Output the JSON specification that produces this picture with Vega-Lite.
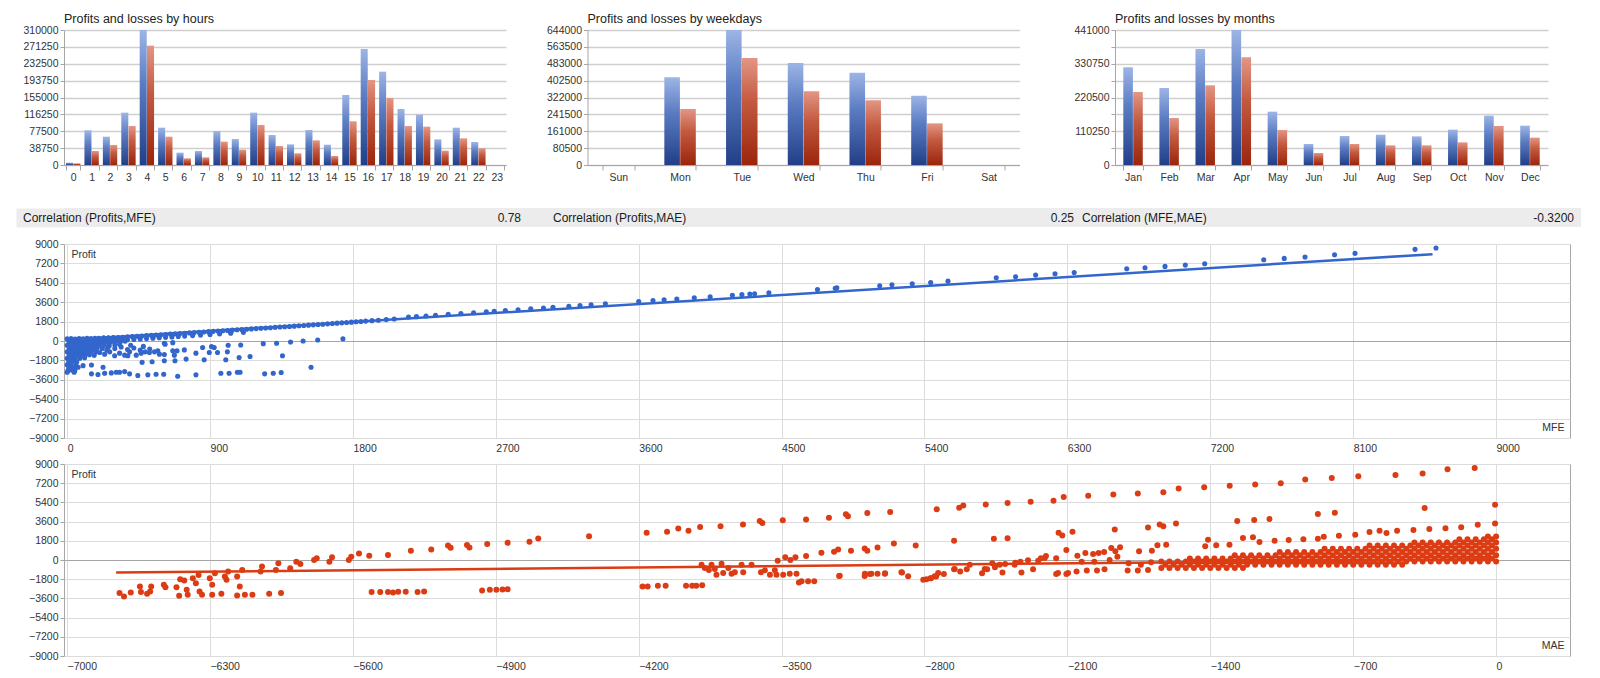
{
"$schema":"https://vega.github.io/schema/vega-lite/v6.json",
"padding":{"left":15,"top":12,"right":0,"bottom":0},
"background":"white",
"config":{"font":"Liberation Sans","view":{"stroke":null},"axis":{"labelFont":"Liberation Sans","titleFont":"Liberation Sans","labelColor":"#333333","titleColor":"#333333"},"title":{"font":"Liberation Sans"}},
"datasets":{
"hours":[{"hour":0,"Profit":5400,"Loss":3800},{"hour":1,"Profit":79600,"Loss":32100},{"hour":2,"Profit":65000,"Loss":45900},{"hour":3,"Profit":120200,"Loss":89500},{"hour":4,"Profit":310000,"Loss":274000},{"hour":5,"Profit":85700,"Loss":65000},{"hour":6,"Profit":28300,"Loss":15300},{"hour":7,"Profit":32100,"Loss":17600},{"hour":8,"Profit":78000,"Loss":53600},{"hour":9,"Profit":59700,"Loss":35200},{"hour":10,"Profit":120200,"Loss":91800},{"hour":11,"Profit":68900,"Loss":43600},{"hour":12,"Profit":47400,"Loss":26800},{"hour":13,"Profit":80400,"Loss":56600},{"hour":14,"Profit":46700,"Loss":20700},{"hour":15,"Profit":160700,"Loss":100300},{"hour":16,"Profit":266400,"Loss":195200},{"hour":17,"Profit":214300,"Loss":153800},{"hour":18,"Profit":128600,"Loss":89500},{"hour":19,"Profit":115600,"Loss":88000},{"hour":20,"Profit":58900,"Loss":32900},{"hour":21,"Profit":85700,"Loss":61200},{"hour":22,"Profit":52800,"Loss":38300},{"hour":23,"Profit":0,"Loss":0}],
"weekdays":[{"day":"Sun","Profit":0,"Loss":0},{"day":"Mon","Profit":418200,"Loss":267100},{"day":"Tue","Profit":644000,"Loss":510400},{"day":"Wed","Profit":486500,"Loss":351400},{"day":"Thu","Profit":440400,"Loss":308500},{"day":"Fri","Profit":330700,"Loss":198750},{"day":"Sat","Profit":0,"Loss":0}],
"months":[{"month":"Jan","Profit":319000,"Loss":238500},{"month":"Feb","Profit":251500,"Loss":153500},{"month":"Mar","Profit":379000,"Loss":260300},{"month":"Apr","Profit":441000,"Loss":351700},{"month":"May","Profit":174200,"Loss":114300},{"month":"Jun","Profit":68600,"Loss":39200},{"month":"Jul","Profit":94700,"Loss":68600},{"month":"Aug","Profit":99100,"Loss":64200},{"month":"Sep","Profit":93600,"Loss":64200},{"month":"Oct","Profit":115400,"Loss":74000},{"month":"Nov","Profit":161200,"Loss":127400},{"month":"Dec","Profit":128500,"Loss":89300}],
"corr":[{"pair":"Profits,MFE","label":"Correlation (Profits,MFE)","value":"0.78"},{"pair":"Profits,MAE","label":"Correlation (Profits,MAE)","value":"0.25"},{"pair":"MFE,MAE","label":"Correlation (MFE,MAE)","value":"-0.3200"}],
"mfeLine":[{"MFE":0,"Profit":100},{"MFE":8600,"Profit":8060}],
"maeLine":[{"MAE":-6760,"Profit":-1180},{"MAE":-20,"Profit":70}],
"mfePts":[
{"MFE":0,"Profit":200},{"MFE":25,"Profit":220},{"MFE":50,"Profit":190},{"MFE":75,"Profit":230},{"MFE":100,"Profit":210},{"MFE":125,"Profit":240},{"MFE":150,"Profit":220},{"MFE":175,"Profit":250},{"MFE":200,"Profit":260},{"MFE":230,"Profit":290},{"MFE":260,"Profit":300},{"MFE":290,"Profit":330},
{"MFE":12,"Profit":-100},{"MFE":37,"Profit":-80},{"MFE":62,"Profit":-120},{"MFE":87,"Profit":-90},{"MFE":112,"Profit":-110},{"MFE":137,"Profit":-70},{"MFE":162,"Profit":-100},{"MFE":187,"Profit":-60},{"MFE":215,"Profit":-90},{"MFE":245,"Profit":-40},{"MFE":275,"Profit":-80},{"MFE":305,"Profit":-20},{"MFE":335,"Profit":-60},{"MFE":365,"Profit":-10},
{"MFE":0,"Profit":-400},{"MFE":25,"Profit":-380},{"MFE":50,"Profit":-420},{"MFE":75,"Profit":-390},{"MFE":100,"Profit":-410},{"MFE":125,"Profit":-380},{"MFE":150,"Profit":-420},{"MFE":175,"Profit":-390},{"MFE":200,"Profit":-400},{"MFE":230,"Profit":-370},{"MFE":265,"Profit":-430},{"MFE":300,"Profit":-380},
{"MFE":12,"Profit":-700},{"MFE":37,"Profit":-680},{"MFE":62,"Profit":-720},{"MFE":87,"Profit":-690},{"MFE":112,"Profit":-710},{"MFE":137,"Profit":-680},{"MFE":162,"Profit":-720},{"MFE":187,"Profit":-690},{"MFE":220,"Profit":-700},{"MFE":255,"Profit":-660},
{"MFE":0,"Profit":-1000},{"MFE":25,"Profit":-980},{"MFE":50,"Profit":-1020},{"MFE":75,"Profit":-990},{"MFE":100,"Profit":-1010},{"MFE":125,"Profit":-980},{"MFE":150,"Profit":-1000},{"MFE":180,"Profit":-1030},
{"MFE":12,"Profit":-1300},{"MFE":37,"Profit":-1280},{"MFE":62,"Profit":-1320},{"MFE":87,"Profit":-1290},{"MFE":112,"Profit":-1310},{"MFE":140,"Profit":-1280},{"MFE":170,"Profit":-1330},
{"MFE":0,"Profit":-1600},{"MFE":25,"Profit":-1580},{"MFE":50,"Profit":-1620},{"MFE":80,"Profit":-1590},{"MFE":110,"Profit":-1560},
{"MFE":10,"Profit":-1900},{"MFE":35,"Profit":-1880},{"MFE":60,"Profit":-1920},{"MFE":0,"Profit":-2200},{"MFE":25,"Profit":-2180},{"MFE":55,"Profit":-2230},{"MFE":10,"Profit":-2500},{"MFE":40,"Profit":-2480},{"MFE":5,"Profit":-2750},{"MFE":30,"Profit":-2700},{"MFE":0,"Profit":-2900},
{"MFE":200,"Profit":210},{"MFE":230,"Profit":239},{"MFE":260,"Profit":267},{"MFE":290,"Profit":296},{"MFE":320,"Profit":324},{"MFE":350,"Profit":353},{"MFE":380,"Profit":381},{"MFE":410,"Profit":410},{"MFE":440,"Profit":438},{"MFE":470,"Profit":467},{"MFE":500,"Profit":495},{"MFE":530,"Profit":524},{"MFE":560,"Profit":552},{"MFE":590,"Profit":581},{"MFE":620,"Profit":609},{"MFE":650,"Profit":638},{"MFE":680,"Profit":666},{"MFE":710,"Profit":695},{"MFE":740,"Profit":723},{"MFE":770,"Profit":752},{"MFE":800,"Profit":780},{"MFE":830,"Profit":809},{"MFE":860,"Profit":837},{"MFE":890,"Profit":866},{"MFE":920,"Profit":894},{"MFE":950,"Profit":923},{"MFE":980,"Profit":951},{"MFE":1010,"Profit":980},{"MFE":1040,"Profit":1008},{"MFE":1070,"Profit":1037},{"MFE":1100,"Profit":1065},{"MFE":1130,"Profit":1094},{"MFE":1160,"Profit":1122},{"MFE":1190,"Profit":1151},{"MFE":1220,"Profit":1179},{"MFE":1250,"Profit":1208},{"MFE":1280,"Profit":1236},{"MFE":1310,"Profit":1265},{"MFE":1340,"Profit":1293},{"MFE":1370,"Profit":1322},{"MFE":1400,"Profit":1350},{"MFE":1430,"Profit":1379},{"MFE":1460,"Profit":1410},{"MFE":1490,"Profit":1440},{"MFE":1520,"Profit":1470},{"MFE":1550,"Profit":1500},{"MFE":1580,"Profit":1530},{"MFE":1610,"Profit":1560},{"MFE":1640,"Profit":1592},{"MFE":1670,"Profit":1622},{"MFE":1700,"Profit":1654},{"MFE":1730,"Profit":1685},{"MFE":1760,"Profit":1716},{"MFE":1790,"Profit":1748},{"MFE":1820,"Profit":1780},{"MFE":1850,"Profit":1812},{"MFE":1880,"Profit":1845},{"MFE":1920,"Profit":1888},{"MFE":1960,"Profit":1930},{"MFE":2010,"Profit":1985},{"MFE":2060,"Profit":2040},
{"MFE":220,"Profit":-40},{"MFE":260,"Profit":-3},{"MFE":300,"Profit":35},{"MFE":340,"Profit":73},{"MFE":380,"Profit":111},{"MFE":420,"Profit":149},{"MFE":460,"Profit":187},{"MFE":500,"Profit":225},{"MFE":540,"Profit":263},{"MFE":580,"Profit":301},{"MFE":620,"Profit":339},{"MFE":660,"Profit":377},{"MFE":700,"Profit":415},{"MFE":740,"Profit":453},{"MFE":790,"Profit":500},{"MFE":840,"Profit":548},{"MFE":900,"Profit":605},{"MFE":960,"Profit":662},{"MFE":1030,"Profit":728},{"MFE":1110,"Profit":804},
{"MFE":2150,"Profit":2230},{"MFE":2200,"Profit":2260},{"MFE":2260,"Profit":2320},{"MFE":2320,"Profit":2380},{"MFE":2400,"Profit":2470},{"MFE":2480,"Profit":2540},{"MFE":2560,"Profit":2620},{"MFE":2640,"Profit":2700},{"MFE":2690,"Profit":2750},{"MFE":2760,"Profit":2830},{"MFE":2840,"Profit":2900},{"MFE":2920,"Profit":2990},{"MFE":3000,"Profit":3060},{"MFE":3060,"Profit":3130},{"MFE":3160,"Profit":3220},{"MFE":3230,"Profit":3290},{"MFE":3300,"Profit":3370},{"MFE":3390,"Profit":3450},{"MFE":3600,"Profit":3660},{"MFE":3690,"Profit":3750},{"MFE":3760,"Profit":3820},{"MFE":3840,"Profit":3900},{"MFE":3950,"Profit":4010},{"MFE":4050,"Profit":4110},{"MFE":4190,"Profit":4250},{"MFE":4250,"Profit":4300},{"MFE":4300,"Profit":4360},{"MFE":4330,"Profit":4390},{"MFE":4420,"Profit":4480},
{"MFE":4726,"Profit":4779},{"MFE":4838,"Profit":4900},{"MFE":4848,"Profit":4934},{"MFE":5118,"Profit":5120},{"MFE":5195,"Profit":5213},{"MFE":5323,"Profit":5306},{"MFE":5439,"Profit":5430},{"MFE":5548,"Profit":5554},{"MFE":5852,"Profit":5865},{"MFE":5974,"Profit":5958},{"MFE":6100,"Profit":6113},{"MFE":6222,"Profit":6237},{"MFE":6343,"Profit":6361},{"MFE":6674,"Profit":6702},{"MFE":6789,"Profit":6796},{"MFE":6915,"Profit":6920},{"MFE":7043,"Profit":7044},{"MFE":7165,"Profit":7168},{"MFE":7537,"Profit":7540},{"MFE":7666,"Profit":7664},{"MFE":7797,"Profit":7789},{"MFE":7983,"Profit":8006},{"MFE":8112,"Profit":8130},{"MFE":8490,"Profit":8502},{"MFE":8622,"Profit":8626},
{"MFE":612,"Profit":-214},{"MFE":665,"Profit":-153},{"MFE":738,"Profit":-824},{"MFE":749,"Profit":-1678},{"MFE":811,"Profit":-1129},{"MFE":853,"Profit":-610},{"MFE":863,"Profit":-1739},{"MFE":895,"Profit":-1068},{"MFE":909,"Profit":-519},{"MFE":926,"Profit":-610},{"MFE":947,"Profit":-1068},{"MFE":999,"Profit":-1739},{"MFE":1009,"Profit":-1007},{"MFE":1014,"Profit":-397},{"MFE":1083,"Profit":-1525},{"MFE":1093,"Profit":-366},{"MFE":1152,"Profit":-1434},{"MFE":1235,"Profit":-244},{"MFE":1319,"Profit":-214},{"MFE":1356,"Profit":-1373},{"MFE":1407,"Profit":-92},{"MFE":1486,"Profit":0},{"MFE":1536,"Profit":-2440},{"MFE":1578,"Profit":92},{"MFE":1737,"Profit":214},
{"MFE":153,"Profit":-3050},{"MFE":194,"Profit":-3111},{"MFE":236,"Profit":-2989},{"MFE":278,"Profit":-2959},{"MFE":309,"Profit":-2898},{"MFE":330,"Profit":-2898},{"MFE":362,"Profit":-2837},{"MFE":393,"Profit":-3050},{"MFE":445,"Profit":-3203},{"MFE":508,"Profit":-3142},{"MFE":560,"Profit":-3081},{"MFE":608,"Profit":-3081},{"MFE":696,"Profit":-3264},{"MFE":811,"Profit":-3142},{"MFE":968,"Profit":-2989},{"MFE":1020,"Profit":-2989},{"MFE":1072,"Profit":-2898},{"MFE":1089,"Profit":-2898},{"MFE":1244,"Profit":-3050},{"MFE":1298,"Profit":-2989},{"MFE":1348,"Profit":-2928},
{"MFE":48,"Profit":-2745},{"MFE":69,"Profit":-2440},{"MFE":100,"Profit":-2288},{"MFE":153,"Profit":-2227},{"MFE":226,"Profit":-2440},{"MFE":44,"Profit":-2898},{"MFE":472,"Profit":-1983},{"MFE":535,"Profit":-1922},{"MFE":612,"Profit":-1830},{"MFE":679,"Profit":-1830},
{"MFE":205,"Profit":-1068},{"MFE":236,"Profit":-1220},{"MFE":268,"Profit":-1007},{"MFE":299,"Profit":-1373},{"MFE":330,"Profit":-1129},{"MFE":362,"Profit":-1312},{"MFE":393,"Profit":-1007},{"MFE":382,"Profit":-1373},{"MFE":435,"Profit":-1312},{"MFE":466,"Profit":-1129},{"MFE":491,"Profit":-1007},{"MFE":518,"Profit":-1068},{"MFE":550,"Profit":-1007},{"MFE":571,"Profit":-915},{"MFE":581,"Profit":-1220},{"MFE":612,"Profit":-1251},{"MFE":617,"Profit":-305},{"MFE":675,"Profit":-1312},{"MFE":692,"Profit":-915},{"MFE":665,"Profit":-915},
{"MFE":220,"Profit":-600},{"MFE":260,"Profit":-450},{"MFE":300,"Profit":-700},{"MFE":340,"Profit":-550},{"MFE":380,"Profit":-800},{"MFE":420,"Profit":-650},{"MFE":460,"Profit":-850},{"MFE":250,"Profit":-850},{"MFE":330,"Profit":-300},{"MFE":400,"Profit":-400},{"MFE":480,"Profit":-500},{"MFE":520,"Profit":-750}
],
"maePts":[
{"MAE":-1640,"Profit":-750},{"MAE":-1600,"Profit":-750},{"MAE":-1560,"Profit":-750},{"MAE":-1520,"Profit":-750},{"MAE":-1480,"Profit":-750},{"MAE":-1440,"Profit":-750},{"MAE":-1400,"Profit":-750},{"MAE":-1360,"Profit":-750},{"MAE":-1320,"Profit":-750},{"MAE":-1280,"Profit":-750},{"MAE":-1240,"Profit":-750},
{"MAE":-1620,"Profit":-450},{"MAE":-1580,"Profit":-450},{"MAE":-1540,"Profit":-450},{"MAE":-1500,"Profit":-450},{"MAE":-1460,"Profit":-450},{"MAE":-1420,"Profit":-450},{"MAE":-1380,"Profit":-450},{"MAE":-1340,"Profit":-450},{"MAE":-1300,"Profit":-450},{"MAE":-1260,"Profit":-450},{"MAE":-1220,"Profit":-450},{"MAE":-1180,"Profit":-450},{"MAE":-1140,"Profit":-450},{"MAE":-1100,"Profit":-450},{"MAE":-1060,"Profit":-450},{"MAE":-1020,"Profit":-450},{"MAE":-980,"Profit":-450},{"MAE":-940,"Profit":-450},{"MAE":-900,"Profit":-450},{"MAE":-860,"Profit":-450},{"MAE":-820,"Profit":-450},{"MAE":-780,"Profit":-450},{"MAE":-740,"Profit":-450},{"MAE":-700,"Profit":-450},{"MAE":-660,"Profit":-450},{"MAE":-620,"Profit":-450},{"MAE":-580,"Profit":-450},{"MAE":-540,"Profit":-450},{"MAE":-500,"Profit":-450},{"MAE":-460,"Profit":-450},
{"MAE":-1640,"Profit":-150},{"MAE":-1600,"Profit":-150},{"MAE":-1560,"Profit":-150},{"MAE":-1520,"Profit":-150},{"MAE":-1480,"Profit":-150},{"MAE":-1440,"Profit":-150},{"MAE":-1400,"Profit":-150},{"MAE":-1360,"Profit":-150},{"MAE":-1320,"Profit":-150},{"MAE":-1280,"Profit":-150},{"MAE":-1240,"Profit":-150},{"MAE":-1200,"Profit":-150},{"MAE":-1160,"Profit":-150},{"MAE":-1120,"Profit":-150},{"MAE":-1080,"Profit":-150},{"MAE":-1040,"Profit":-150},{"MAE":-1000,"Profit":-150},{"MAE":-960,"Profit":-150},{"MAE":-920,"Profit":-150},{"MAE":-880,"Profit":-150},{"MAE":-840,"Profit":-150},{"MAE":-800,"Profit":-150},{"MAE":-760,"Profit":-150},{"MAE":-720,"Profit":-150},{"MAE":-680,"Profit":-150},{"MAE":-640,"Profit":-150},{"MAE":-600,"Profit":-150},{"MAE":-560,"Profit":-150},{"MAE":-520,"Profit":-150},{"MAE":-480,"Profit":-150},{"MAE":-440,"Profit":-150},{"MAE":-400,"Profit":-150},{"MAE":-360,"Profit":-150},{"MAE":-320,"Profit":-150},{"MAE":-280,"Profit":-150},{"MAE":-240,"Profit":-150},{"MAE":-200,"Profit":-150},{"MAE":-160,"Profit":-150},{"MAE":-120,"Profit":-150},{"MAE":-80,"Profit":-150},{"MAE":-40,"Profit":-150},{"MAE":0,"Profit":-150},
{"MAE":-1500,"Profit":150},{"MAE":-1460,"Profit":150},{"MAE":-1420,"Profit":150},{"MAE":-1380,"Profit":150},{"MAE":-1340,"Profit":150},{"MAE":-1300,"Profit":150},{"MAE":-1260,"Profit":150},{"MAE":-1220,"Profit":150},{"MAE":-1180,"Profit":150},{"MAE":-1140,"Profit":150},{"MAE":-1100,"Profit":150},{"MAE":-1060,"Profit":150},{"MAE":-1020,"Profit":150},{"MAE":-980,"Profit":150},{"MAE":-940,"Profit":150},{"MAE":-900,"Profit":150},{"MAE":-860,"Profit":150},{"MAE":-820,"Profit":150},{"MAE":-780,"Profit":150},{"MAE":-740,"Profit":150},{"MAE":-700,"Profit":150},{"MAE":-660,"Profit":150},{"MAE":-620,"Profit":150},{"MAE":-580,"Profit":150},{"MAE":-540,"Profit":150},{"MAE":-500,"Profit":150},{"MAE":-460,"Profit":150},{"MAE":-420,"Profit":150},{"MAE":-380,"Profit":150},{"MAE":-340,"Profit":150},{"MAE":-300,"Profit":150},{"MAE":-260,"Profit":150},{"MAE":-220,"Profit":150},{"MAE":-180,"Profit":150},{"MAE":-140,"Profit":150},{"MAE":-100,"Profit":150},{"MAE":-60,"Profit":150},{"MAE":-20,"Profit":150},
{"MAE":-1280,"Profit":450},{"MAE":-1240,"Profit":450},{"MAE":-1200,"Profit":450},{"MAE":-1160,"Profit":450},{"MAE":-1120,"Profit":450},{"MAE":-1080,"Profit":450},{"MAE":-1040,"Profit":450},{"MAE":-1000,"Profit":450},{"MAE":-960,"Profit":450},{"MAE":-920,"Profit":450},{"MAE":-880,"Profit":450},{"MAE":-840,"Profit":450},{"MAE":-800,"Profit":450},{"MAE":-760,"Profit":450},{"MAE":-720,"Profit":450},{"MAE":-680,"Profit":450},{"MAE":-640,"Profit":450},{"MAE":-600,"Profit":450},{"MAE":-560,"Profit":450},{"MAE":-520,"Profit":450},{"MAE":-480,"Profit":450},{"MAE":-440,"Profit":450},{"MAE":-400,"Profit":450},{"MAE":-360,"Profit":450},{"MAE":-320,"Profit":450},{"MAE":-280,"Profit":450},{"MAE":-240,"Profit":450},{"MAE":-200,"Profit":450},{"MAE":-160,"Profit":450},{"MAE":-120,"Profit":450},{"MAE":-80,"Profit":450},{"MAE":-40,"Profit":450},{"MAE":0,"Profit":450},
{"MAE":-1060,"Profit":750},{"MAE":-1020,"Profit":750},{"MAE":-980,"Profit":750},{"MAE":-940,"Profit":750},{"MAE":-900,"Profit":750},{"MAE":-860,"Profit":750},{"MAE":-820,"Profit":750},{"MAE":-780,"Profit":750},{"MAE":-740,"Profit":750},{"MAE":-700,"Profit":750},{"MAE":-660,"Profit":750},{"MAE":-620,"Profit":750},{"MAE":-580,"Profit":750},{"MAE":-540,"Profit":750},{"MAE":-500,"Profit":750},{"MAE":-460,"Profit":750},{"MAE":-420,"Profit":750},{"MAE":-380,"Profit":750},{"MAE":-340,"Profit":750},{"MAE":-300,"Profit":750},{"MAE":-260,"Profit":750},{"MAE":-220,"Profit":750},{"MAE":-180,"Profit":750},{"MAE":-140,"Profit":750},{"MAE":-100,"Profit":750},{"MAE":-60,"Profit":750},{"MAE":-20,"Profit":750},
{"MAE":-840,"Profit":1050},{"MAE":-800,"Profit":1050},{"MAE":-760,"Profit":1050},{"MAE":-720,"Profit":1050},{"MAE":-680,"Profit":1050},{"MAE":-640,"Profit":1050},{"MAE":-600,"Profit":1050},{"MAE":-560,"Profit":1050},{"MAE":-520,"Profit":1050},{"MAE":-480,"Profit":1050},{"MAE":-440,"Profit":1050},{"MAE":-400,"Profit":1050},{"MAE":-360,"Profit":1050},{"MAE":-320,"Profit":1050},{"MAE":-280,"Profit":1050},{"MAE":-240,"Profit":1050},{"MAE":-200,"Profit":1050},{"MAE":-160,"Profit":1050},{"MAE":-120,"Profit":1050},{"MAE":-80,"Profit":1050},{"MAE":-40,"Profit":1050},{"MAE":0,"Profit":1050},
{"MAE":-620,"Profit":1350},{"MAE":-580,"Profit":1350},{"MAE":-540,"Profit":1350},{"MAE":-500,"Profit":1350},{"MAE":-460,"Profit":1350},{"MAE":-420,"Profit":1350},{"MAE":-380,"Profit":1350},{"MAE":-340,"Profit":1350},{"MAE":-300,"Profit":1350},{"MAE":-260,"Profit":1350},{"MAE":-220,"Profit":1350},{"MAE":-180,"Profit":1350},{"MAE":-140,"Profit":1350},{"MAE":-100,"Profit":1350},{"MAE":-60,"Profit":1350},{"MAE":-20,"Profit":1350},
{"MAE":-400,"Profit":1650},{"MAE":-360,"Profit":1650},{"MAE":-320,"Profit":1650},{"MAE":-280,"Profit":1650},{"MAE":-240,"Profit":1650},{"MAE":-200,"Profit":1650},{"MAE":-160,"Profit":1650},{"MAE":-120,"Profit":1650},{"MAE":-80,"Profit":1650},{"MAE":-40,"Profit":1650},{"MAE":0,"Profit":1650},
{"MAE":-180,"Profit":1950},{"MAE":-140,"Profit":1950},{"MAE":-100,"Profit":1950},{"MAE":-60,"Profit":1950},{"MAE":-20,"Profit":1950},{"MAE":-40,"Profit":2200},{"MAE":0,"Profit":2200},
{"MAE":-6743,"Profit":-3103},{"MAE":-6721,"Profit":-3413},{"MAE":-6688,"Profit":-3041},{"MAE":-6643,"Profit":-2482},{"MAE":-6638,"Profit":-3010},{"MAE":-6608,"Profit":-3165},{"MAE":-6593,"Profit":-2948},{"MAE":-6588,"Profit":-2482},{"MAE":-6526,"Profit":-2327},{"MAE":-6518,"Profit":-2544},{"MAE":-6464,"Profit":-2544},{"MAE":-6451,"Profit":-3351},{"MAE":-6446,"Profit":-1800},{"MAE":-6426,"Profit":-1924},{"MAE":-6414,"Profit":-2793},{"MAE":-6409,"Profit":-3258},{"MAE":-6384,"Profit":-1707},{"MAE":-6369,"Profit":-2172},{"MAE":-6356,"Profit":-1396},{"MAE":-6351,"Profit":-2948},{"MAE":-6339,"Profit":-3258},{"MAE":-6301,"Profit":-1707},{"MAE":-6289,"Profit":-2327},{"MAE":-6289,"Profit":-3258},{"MAE":-6276,"Profit":-1241},{"MAE":-6244,"Profit":-3165},{"MAE":-6227,"Profit":-1551},{"MAE":-6219,"Profit":-1862},{"MAE":-6211,"Profit":-1086},{"MAE":-6167,"Profit":-1551},{"MAE":-6167,"Profit":-3320},{"MAE":-6154,"Profit":-2482},{"MAE":-6142,"Profit":-931},{"MAE":-6129,"Profit":-3258},{"MAE":-6092,"Profit":-3258},{"MAE":-6052,"Profit":-1086},{"MAE":-6045,"Profit":-621},{"MAE":-6010,"Profit":-3165},{"MAE":-5977,"Profit":-931},{"MAE":-5965,"Profit":-310},{"MAE":-5952,"Profit":-3103},{"MAE":-5907,"Profit":-776},{"MAE":-5877,"Profit":-155},{"MAE":-5857,"Profit":-372},{"MAE":-5790,"Profit":0},{"MAE":-5777,"Profit":155},{"MAE":-5715,"Profit":-155},{"MAE":-5702,"Profit":248},{"MAE":-5620,"Profit":0},{"MAE":-5608,"Profit":310},{"MAE":-5570,"Profit":621},{"MAE":-5520,"Profit":403},{"MAE":-5508,"Profit":-3010},{"MAE":-5466,"Profit":-3010},{"MAE":-5428,"Profit":465},{"MAE":-5428,"Profit":-3010},{"MAE":-5403,"Profit":-3041},{"MAE":-5378,"Profit":-2979},{"MAE":-5341,"Profit":-2979},{"MAE":-5316,"Profit":869},{"MAE":-5283,"Profit":-3010},{"MAE":-5251,"Profit":-2948},{"MAE":-5216,"Profit":993},{"MAE":-5134,"Profit":1365},{"MAE":-5121,"Profit":1148},{"MAE":-5041,"Profit":1396},{"MAE":-5029,"Profit":1179},{"MAE":-4967,"Profit":-2855},{"MAE":-4942,"Profit":1489},{"MAE":-4929,"Profit":-2793},{"MAE":-4897,"Profit":-2793},{"MAE":-4867,"Profit":-2762},{"MAE":-4842,"Profit":1614},{"MAE":-4842,"Profit":-2731},{"MAE":-4735,"Profit":1707},{"MAE":-4692,"Profit":2017},{"MAE":-4443,"Profit":2234},{"MAE":-4181,"Profit":-2482},{"MAE":-4156,"Profit":-2482},{"MAE":-4161,"Profit":2544},{"MAE":-4106,"Profit":-2420},{"MAE":-4068,"Profit":-2420},{"MAE":-4061,"Profit":2637},{"MAE":-4006,"Profit":2948},{"MAE":-3968,"Profit":-2420},{"MAE":-3956,"Profit":2731},{"MAE":-3938,"Profit":-2420},{"MAE":-3918,"Profit":-2420},{"MAE":-3889,"Profit":-2358},{"MAE":-3899,"Profit":3103},{"MAE":-3799,"Profit":3165},{"MAE":-3689,"Profit":3320},{"MAE":-3607,"Profit":3662},{"MAE":-3594,"Profit":3475},{"MAE":-3494,"Profit":3724},
{"MAE":-3892,"Profit":-437},{"MAE":-3876,"Profit":-750},{"MAE":-3856,"Profit":-931},{"MAE":-3843,"Profit":-437},{"MAE":-3827,"Profit":-844},{"MAE":-3819,"Profit":-1375},{"MAE":-3794,"Profit":-344},{"MAE":-3786,"Profit":-1219},{"MAE":-3761,"Profit":-750},{"MAE":-3745,"Profit":-1281},{"MAE":-3729,"Profit":-1156},{"MAE":-3696,"Profit":-437},{"MAE":-3688,"Profit":-1156},{"MAE":-3647,"Profit":-437},{"MAE":-3601,"Profit":-1156},{"MAE":-3582,"Profit":-969},{"MAE":-3557,"Profit":-1375},{"MAE":-3533,"Profit":-969},{"MAE":-3525,"Profit":-1375},{"MAE":-3519,"Profit":-62},{"MAE":-3492,"Profit":-1375},{"MAE":-3482,"Profit":248},{"MAE":-3460,"Profit":-1281},{"MAE":-3457,"Profit":0},{"MAE":-3432,"Profit":248},{"MAE":-3427,"Profit":-1281},{"MAE":-3415,"Profit":-2110},{"MAE":-3402,"Profit":-2000},{"MAE":-3370,"Profit":-2000},{"MAE":-3340,"Profit":-2000},{"MAE":-3215,"Profit":-1469},{"MAE":-3092,"Profit":-1281},{"MAE":-3060,"Profit":-1281},{"MAE":-3030,"Profit":-1281},{"MAE":-2994,"Profit":-1281},{"MAE":-2913,"Profit":-1156},{"MAE":-2880,"Profit":-1531},{"MAE":-2806,"Profit":-1850},{"MAE":-2790,"Profit":-1800},{"MAE":-2770,"Profit":-1700},{"MAE":-2750,"Profit":-1530},{"MAE":-2733,"Profit":-1219},{"MAE":-2652,"Profit":-844},{"MAE":-2578,"Profit":-437},{"MAE":-2505,"Profit":-844},{"MAE":-2431,"Profit":-437},{"MAE":-2358,"Profit":-437},{"MAE":-2293,"Profit":-31},{"MAE":-2211,"Profit":188},{"MAE":-2146,"Profit":-1219},{"MAE":-2097,"Profit":-1219},
{"MAE":-3380,"Profit":3786},{"MAE":-3268,"Profit":3972},{"MAE":-3185,"Profit":4282},{"MAE":-3175,"Profit":4096},{"MAE":-3080,"Profit":4406},{"MAE":-2968,"Profit":4499},{"MAE":-2740,"Profit":4748},{"MAE":-2630,"Profit":4903},{"MAE":-2610,"Profit":5120},{"MAE":-2500,"Profit":5213},{"MAE":-2393,"Profit":5337},{"MAE":-2280,"Profit":5461},{"MAE":-2168,"Profit":5554},{"MAE":-2118,"Profit":5896},{"MAE":-1998,"Profit":6020},{"MAE":-1875,"Profit":6144},{"MAE":-1755,"Profit":6237},{"MAE":-1630,"Profit":6361},{"MAE":-1555,"Profit":6702},{"MAE":-1430,"Profit":6827},{"MAE":-1305,"Profit":6951},{"MAE":-1180,"Profit":7075},{"MAE":-1055,"Profit":7199},{"MAE":-935,"Profit":7540},{"MAE":-805,"Profit":7695},{"MAE":-675,"Profit":7851},{"MAE":-493,"Profit":7975},{"MAE":-360,"Profit":8099},{"MAE":-238,"Profit":8502},{"MAE":-105,"Profit":8626},
{"MAE":-3380,"Profit":372},{"MAE":-3305,"Profit":683},{"MAE":-3243,"Profit":776},{"MAE":-3223,"Profit":993},{"MAE":-3160,"Profit":869},{"MAE":-3093,"Profit":1086},{"MAE":-3080,"Profit":869},{"MAE":-3030,"Profit":1179},{"MAE":-2950,"Profit":1551},{"MAE":-2843,"Profit":1365},{"MAE":-2655,"Profit":1800},{"MAE":-2460,"Profit":1986},{"MAE":-2393,"Profit":2048},{"MAE":-2143,"Profit":2544},{"MAE":-2125,"Profit":2296},{"MAE":-2075,"Profit":2637},{"MAE":-1868,"Profit":2855},{"MAE":-1705,"Profit":3041},{"MAE":-1648,"Profit":3320},{"MAE":-1630,"Profit":3165},{"MAE":-1568,"Profit":3413},{"MAE":-1268,"Profit":3662},{"MAE":-1185,"Profit":3755},{"MAE":-1110,"Profit":3848},{"MAE":-873,"Profit":4313},{"MAE":-790,"Profit":4437},{"MAE":-350,"Profit":4872},{"MAE":-5,"Profit":5180},{"MAE":-5,"Profit":3413},
{"MAE":-2105,"Profit":931},{"MAE":-2051,"Profit":406},{"MAE":-2012,"Profit":656},{"MAE":-1974,"Profit":563},{"MAE":-1947,"Profit":656},{"MAE":-1920,"Profit":750},{"MAE":-1885,"Profit":1125},{"MAE":-1865,"Profit":813},{"MAE":-1842,"Profit":1188},{"MAE":-1749,"Profit":813},{"MAE":-1686,"Profit":875},{"MAE":-1659,"Profit":1375},{"MAE":-1616,"Profit":1438},{"MAE":-1425,"Profit":1281},{"MAE":-1411,"Profit":1906},{"MAE":-1371,"Profit":1375},{"MAE":-1306,"Profit":1438},{"MAE":-1240,"Profit":2063},{"MAE":-1191,"Profit":2125},{"MAE":-1159,"Profit":1688},{"MAE":-1085,"Profit":1813},{"MAE":-1016,"Profit":1875},{"MAE":-944,"Profit":1938},{"MAE":-873,"Profit":2000},{"MAE":-844,"Profit":2188},{"MAE":-770,"Profit":2281},{"MAE":-690,"Profit":2375},{"MAE":-620,"Profit":2625},{"MAE":-571,"Profit":2750},{"MAE":-537,"Profit":2531},{"MAE":-485,"Profit":2750},{"MAE":-405,"Profit":2813},{"MAE":-327,"Profit":2906},{"MAE":-248,"Profit":2969},{"MAE":-171,"Profit":3063},{"MAE":-90,"Profit":3313},
{"MAE":-3218,"Profit":-1489},{"MAE":-3093,"Profit":-1489},{"MAE":-3068,"Profit":-1303},{"MAE":-2993,"Profit":-1241},{"MAE":-2910,"Profit":-1179},{"MAE":-2768,"Profit":-1707},{"MAE":-2743,"Profit":-1551},{"MAE":-2705,"Profit":-1303},{"MAE":-2655,"Profit":-869},{"MAE":-2625,"Profit":-1086},{"MAE":-2593,"Profit":-869},{"MAE":-2518,"Profit":-1241},{"MAE":-2493,"Profit":-869},{"MAE":-2455,"Profit":-683},{"MAE":-2418,"Profit":-1179},{"MAE":-2355,"Profit":-248},{"MAE":-2325,"Profit":-1179},{"MAE":-2268,"Profit":-869},{"MAE":-2243,"Profit":-62},{"MAE":-2155,"Profit":-1303},{"MAE":-2105,"Profit":-1303},{"MAE":-2055,"Profit":-1086},{"MAE":-2005,"Profit":-993},{"MAE":-1955,"Profit":-993},{"MAE":-1918,"Profit":-869},{"MAE":-1805,"Profit":-993},{"MAE":-1755,"Profit":-993},{"MAE":-1705,"Profit":-931},
{"MAE":-2468,"Profit":-310},{"MAE":-2405,"Profit":-372},{"MAE":-2330,"Profit":-155},{"MAE":-2230,"Profit":155},{"MAE":-2205,"Profit":372},{"MAE":-2155,"Profit":155},{"MAE":-2030,"Profit":-155},{"MAE":-1968,"Profit":-155},{"MAE":-1893,"Profit":0},{"MAE":-1855,"Profit":310},{"MAE":-1800,"Profit":-300},{"MAE":-1740,"Profit":-450},{"MAE":-1690,"Profit":-200}
]
},
"concat":[
{"hconcat":[
{"title":{"text":"Profits and losses by hours","anchor":"start","frame":"group","fontSize":12.5,"fontWeight":"normal","color":"#222222","offset":0},
"width":442,"height":135,"data":{"name":"hours"},
"transform":[{"fold":["Profit","Loss"],"as":["kind","amount"]}],
"encoding":{
"x":{"field":"hour","type":"ordinal","scale":{"paddingInner":0.22,"paddingOuter":0.11},"axis":{"title":null,"labelAngle":0,"labelFontSize":10.5,"labelPadding":2,"tickBand":"extent","tickSize":5,"tickColor":"#a6a6a6","domainColor":"#a6a6a6","grid":false}},
"xOffset":{"field":"kind","type":"nominal","scale":{"domain":["Profit","Loss"],"paddingInner":0.04}},
"y":{"field":"amount","type":"quantitative","scale":{"domain":[0,310000],"nice":false},"axis":{"title":null,"values":[0,38750,77500,116250,155000,193750,232500,271250,310000],"format":"d","grid":true,"gridColor":"#cfcfcf","gridWidth":1.3,"tickSize":4,"tickColor":"#a6a6a6","domainColor":"#a6a6a6","labelPadding":2,"labelFontSize":10.5,"labelFlush":false,"labelOverlap":false,"minExtent":48,"maxExtent":48}}},
"layer":[
{"transform":[{"filter":"datum.kind === 'Profit'"}],"mark":{"type":"bar","fill":{"gradient":"linear","x1":0,"y1":0,"x2":0,"y2":1,"stops":[{"offset":0,"color":"#9db5e6"},{"offset":0.4,"color":"#5b7cc2"},{"offset":1,"color":"#213f88"}]}}},
{"transform":[{"filter":"datum.kind === 'Loss'"}],"mark":{"type":"bar","fill":{"gradient":"linear","x1":0,"y1":0,"x2":0,"y2":1,"stops":[{"offset":0,"color":"#e39684"},{"offset":0.4,"color":"#c35a40"},{"offset":1,"color":"#9b250b"}]}}}
]},
{"title":{"text":"Profits and losses by weekdays","anchor":"start","frame":"group","fontSize":12.5,"fontWeight":"normal","color":"#222222","offset":0},
"width":432,"height":135,"data":{"name":"weekdays"},
"transform":[{"fold":["Profit","Loss"],"as":["kind","amount"]}],
"encoding":{
"x":{"field":"day","type":"nominal","scale":{"domain":["Sun","Mon","Tue","Wed","Thu","Fri","Sat"],"paddingInner":0.49,"paddingOuter":0.245},"axis":{"title":null,"labelAngle":0,"labelFontSize":10.5,"labelPadding":2,"tickBand":"extent","tickSize":5,"tickColor":"#a6a6a6","domainColor":"#a6a6a6","grid":false}},
"xOffset":{"field":"kind","type":"nominal","scale":{"domain":["Profit","Loss"],"paddingInner":0.02}},
"y":{"field":"amount","type":"quantitative","scale":{"domain":[0,644000],"nice":false},"axis":{"title":null,"values":[0,80500,161000,241500,322000,402500,483000,563500,644000],"format":"d","grid":true,"gridColor":"#cfcfcf","gridWidth":1.3,"tickSize":4,"tickColor":"#a6a6a6","domainColor":"#a6a6a6","labelPadding":2,"labelFontSize":10.5,"labelFlush":false,"labelOverlap":false,"minExtent":48,"maxExtent":48}}},
"layer":[
{"transform":[{"filter":"datum.kind === 'Profit'"}],"mark":{"type":"bar","fill":{"gradient":"linear","x1":0,"y1":0,"x2":0,"y2":1,"stops":[{"offset":0,"color":"#9db5e6"},{"offset":0.4,"color":"#5b7cc2"},{"offset":1,"color":"#213f88"}]}}},
{"transform":[{"filter":"datum.kind === 'Loss'"}],"mark":{"type":"bar","fill":{"gradient":"linear","x1":0,"y1":0,"x2":0,"y2":1,"stops":[{"offset":0,"color":"#e39684"},{"offset":0.4,"color":"#c35a40"},{"offset":1,"color":"#9b250b"}]}}}
]},
{"title":{"text":"Profits and losses by months","anchor":"start","frame":"group","fontSize":12.5,"fontWeight":"normal","color":"#222222","offset":0},
"width":433,"height":135,"data":{"name":"months"},
"transform":[{"fold":["Profit","Loss"],"as":["kind","amount"]}],
"encoding":{
"x":{"field":"month","type":"nominal","scale":{"domain":["Jan","Feb","Mar","Apr","May","Jun","Jul","Aug","Sep","Oct","Nov","Dec"],"paddingInner":0.46,"paddingOuter":0.23},"axis":{"title":null,"labelAngle":0,"labelFontSize":10.5,"labelPadding":2,"tickBand":"extent","tickSize":5,"tickColor":"#a6a6a6","domainColor":"#a6a6a6","grid":false}},
"xOffset":{"field":"kind","type":"nominal","scale":{"domain":["Profit","Loss"],"paddingInner":0.03}},
"y":{"field":"amount","type":"quantitative","scale":{"domain":[0,441000],"nice":false},"axis":{"title":null,"values":[0,55125,110250,165375,220500,275625,330750,385875,441000],"format":"d","labelExpr":"datum.value % 110250 === 0 ? datum.label : ''","grid":true,"gridColor":"#cfcfcf","gridWidth":1.3,"tickSize":4,"tickColor":"#a6a6a6","domainColor":"#a6a6a6","labelPadding":2,"labelFontSize":10.5,"labelFlush":false,"labelOverlap":false,"minExtent":62,"maxExtent":62}}},
"layer":[
{"transform":[{"filter":"datum.kind === 'Profit'"}],"mark":{"type":"bar","fill":{"gradient":"linear","x1":0,"y1":0,"x2":0,"y2":1,"stops":[{"offset":0,"color":"#9db5e6"},{"offset":0.4,"color":"#5b7cc2"},{"offset":1,"color":"#213f88"}]}}},
{"transform":[{"filter":"datum.kind === 'Loss'"}],"mark":{"type":"bar","fill":{"gradient":"linear","x1":0,"y1":0,"x2":0,"y2":1,"stops":[{"offset":0,"color":"#e39684"},{"offset":0.4,"color":"#c35a40"},{"offset":1,"color":"#9b250b"}]}}}
]}
],"spacing":33.5,"resolve":{"scale":{"xOffset":"independent"}}},
{"concat":[
{"hconcat":[
{"width":482,"height":19,"view":{"fill":"#ececec","stroke":null},"data":{"name":"corr"},"transform":[{"filter":"datum.pair === 'Profits,MFE'"}],
"encoding":{"y":{"field":"pair","type":"nominal","scale":{"type":"band","paddingInner":0,"paddingOuter":0},"axis":{"title":null,"labels":false,"ticks":false,"grid":false,"domainColor":"#ececec","domainWidth":48,"offset":24}}},
"layer":[
{"mark":{"type":"text","align":"left","baseline":"middle","dx":-41,"fontSize":12,"color":"#1a1a1a"},"encoding":{"x":{"field":"pair","type":"nominal","bandPosition":0,"scale":{"type":"band","paddingInner":0,"paddingOuter":0},"axis":null},"text":{"field":"label"}}},
{"mark":{"type":"text","align":"right","baseline":"middle","dx":-25,"fontSize":12,"color":"#1a1a1a"},"encoding":{"x":{"field":"pair","type":"nominal","bandPosition":1,"scale":{"type":"band","paddingInner":0,"paddingOuter":0},"axis":null},"text":{"field":"value"}}}
]},
{"width":529,"height":19,"view":{"fill":"#ececec","stroke":null},"data":{"name":"corr"},"transform":[{"filter":"datum.pair === 'Profits,MAE'"}],
"layer":[
{"mark":{"type":"text","align":"left","baseline":"middle","dx":7,"fontSize":12,"color":"#1a1a1a"},"encoding":{"x":{"field":"pair","type":"nominal","bandPosition":0,"scale":{"type":"band","paddingInner":0,"paddingOuter":0},"axis":null},"text":{"field":"label"}}},
{"mark":{"type":"text","align":"right","baseline":"middle","dx":-1,"fontSize":12,"color":"#1a1a1a"},"encoding":{"x":{"field":"pair","type":"nominal","bandPosition":1,"scale":{"type":"band","paddingInner":0,"paddingOuter":0},"axis":null},"text":{"field":"value"}}}
]},
{"width":506,"height":19,"view":{"fill":"#ececec","stroke":null},"data":{"name":"corr"},"transform":[{"filter":"datum.pair === 'MFE,MAE'"}],
"layer":[
{"mark":{"type":"text","align":"left","baseline":"middle","dx":7,"fontSize":12,"color":"#1a1a1a"},"encoding":{"x":{"field":"pair","type":"nominal","bandPosition":0,"scale":{"type":"band","paddingInner":0,"paddingOuter":0},"axis":null},"text":{"field":"label"}}},
{"mark":{"type":"text","align":"right","baseline":"middle","dx":-7,"fontSize":12,"color":"#1a1a1a"},"encoding":{"x":{"field":"pair","type":"nominal","bandPosition":1,"scale":{"type":"band","paddingInner":0,"paddingOuter":0},"axis":null},"text":{"field":"value"}}}
]}
],"spacing":0,"bounds":"flush"},
{"vconcat":[
{"width":1506,"height":194,"view":{"stroke":"#a6a6a6"},
"encoding":{
"x":{"field":"MFE","type":"quantitative","scale":{"domain":[-20,9466],"nice":false,"zero":false},"axis":{"values":[0,900,1800,2700,3600,4500,5400,6300,7200,8100,9000],"format":"d","grid":true,"gridColor":"#dcdcdc","ticks":false,"domain":false,"labelAlign":"left","labelPadding":5,"labelFontSize":10.5,"labelFlush":false,"labelOverlap":false,"title":"MFE","titleX":1500,"titleY":-6,"titleAlign":"right","titleBaseline":"bottom","titleFontWeight":"normal","titleFontSize":10.5}},
"y":{"field":"Profit","type":"quantitative","scale":{"domain":[-9000,9000],"nice":false},"axis":{"values":[-9000,-7200,-5400,-3600,-1800,0,1800,3600,5400,7200,9000],"format":"d","grid":true,"gridColor":{"condition":{"test":"datum.value === 0","value":"#a6a6a6"},"value":"#dcdcdc"},"tickSize":4,"tickColor":"#a6a6a6","domain":false,"labelPadding":2,"labelFontSize":10.5,"labelFlush":false,"labelOverlap":false,"title":"Profit","titleAngle":0,"titleX":7,"titleY":5,"titleAlign":"left","titleBaseline":"top","titleFontWeight":"normal","titleFontSize":10.5,"minExtent":48,"maxExtent":48}}},
"layer":[
{"data":{"name":"mfeLine"},"mark":{"type":"line","color":"#3366cc","strokeWidth":2.5},"encoding":{}},
{"data":{"name":"mfePts"},"mark":{"type":"circle","size":26,"opacity":1,"color":"#3366cc"}}
]},
{"width":1506,"height":192,"view":{"stroke":"#a6a6a6"},
"encoding":{
"x":{"field":"MAE","type":"quantitative","scale":{"domain":[-7015,362],"nice":false,"zero":false},"axis":{"values":[-7000,-6300,-5600,-4900,-4200,-3500,-2800,-2100,-1400,-700,0],"format":"d","grid":true,"gridColor":"#dcdcdc","ticks":false,"domain":false,"labelAlign":"left","labelPadding":5,"labelFontSize":10.5,"labelFlush":false,"labelOverlap":false,"title":"MAE","titleX":1500,"titleY":-6,"titleAlign":"right","titleBaseline":"bottom","titleFontWeight":"normal","titleFontSize":10.5}},
"y":{"field":"Profit","type":"quantitative","scale":{"domain":[-9000,9000],"nice":false},"axis":{"values":[-9000,-7200,-5400,-3600,-1800,0,1800,3600,5400,7200,9000],"format":"d","grid":true,"gridColor":{"condition":{"test":"datum.value === 0","value":"#a6a6a6"},"value":"#dcdcdc"},"tickSize":4,"tickColor":"#a6a6a6","domain":false,"labelPadding":2,"labelFontSize":10.5,"labelFlush":false,"labelOverlap":false,"title":"Profit","titleAngle":0,"titleX":7,"titleY":5,"titleAlign":"left","titleBaseline":"top","titleFontWeight":"normal","titleFontSize":10.5,"minExtent":48,"maxExtent":48}}},
"layer":[
{"data":{"name":"maeLine"},"mark":{"type":"line","color":"#dc3c14","strokeWidth":2.5},"encoding":{}},
{"data":{"name":"maePts"},"mark":{"type":"circle","size":36,"opacity":1,"color":"#dc3c14"}}
]}
],"spacing":4}
],"columns":1,"align":"none","spacing":11}
],
"columns":1,"align":"none","spacing":25
}
